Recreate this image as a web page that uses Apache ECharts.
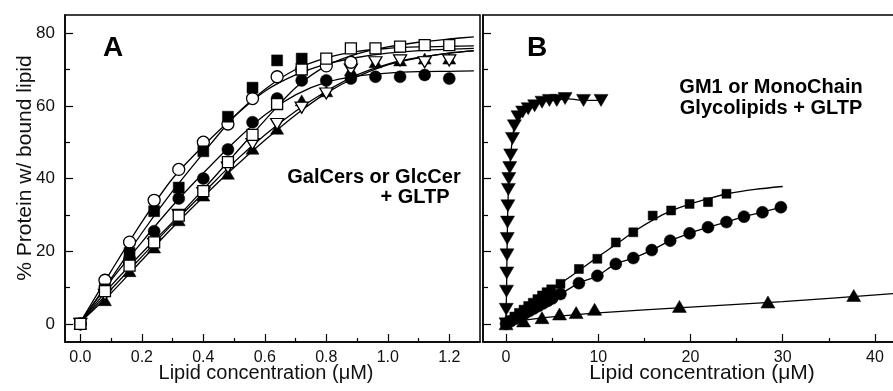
<!DOCTYPE html>
<html>
<head>
<meta charset="utf-8">
<script src="https://cdn.jsdelivr.net/npm/echarts@6.0.0/dist/echarts.min.js"></script>
<style>
html, body {margin: 0; padding: 0; background: #fff;}
#chart {width: 893px; height: 391px;}
</style>
</head>
<body>
<div id="chart"></div>
<script>
// panel A: GalCers / GlcCer, measured points
var xA = [0, 0.08, 0.16, 0.24, 0.32, 0.40, 0.48, 0.56, 0.64, 0.72, 0.80, 0.88, 0.96, 1.04, 1.12, 1.20]
var sqFilledA = [0, 9.5, 19.5, 31, 37.5, 47.5, 57, 65, 72.5, 73]
var circOpenA = [0, 12, 22.5, 34, 42.5, 50, 55, 62, 68, 70, 71, 72]
var circFilledA = [0, 10, 18, 25.5, 34.5, 40, 48, 55.5, 62, 67, 67, 67.5, 68, 68, 68.5, 67.5]
var sqOpenA = [0, 9, 16, 22.4, 29.8, 36.5, 44.5, 52, 60.5, 70, 73, 75.8, 75.8, 76.3, 76.7, 76.7]
var triDownA = [0, 8, 15.5, 22, 30, 36, 43, 49.5, 55, 59.5, 63.4, 70, 72, 72.5, 72, 72.5]
var triUpA = [0, 6.5, 14.5, 21, 28.5, 35.3, 41.3, 48.2, 53.7, 61.5, 64, 69.8, 72, 72.5, 73, 73]

// panel A: fitted curves
var fitXA = [0, 0.1, 0.2, 0.3, 0.4, 0.5, 0.6, 0.7, 0.8, 0.9, 1.0, 1.1, 1.2, 1.28]
var fitSqFilledA = [0.5, 12.5, 25, 36.5, 47, 57, 64.5, 70, 73.2, 75, 75.8, 76.2, 76.4, 76.5]
var fitCircOpenA = [0.5, 14.5, 28, 40, 49, 57, 64, 68.5, 71.5, 73.3, 74.5, 75.2, 75.6, 75.8]
var fitCircFilledA = [0.5, 12, 22.5, 32.5, 41.5, 50, 57.5, 63, 66.5, 68.2, 69, 69.4, 69.5, 69.6]
var fitSqOpenA = [0.5, 10.5, 19.5, 28, 37, 46.5, 56, 65, 71, 74.3, 76.2, 77.5, 78.4, 79]
var fitTriDownA = [0.5, 9.5, 18.5, 27.5, 36, 44.5, 52, 58.5, 64, 68.5, 71.5, 73.3, 74.5, 75.2]
var fitTriUpA = [0.5, 8.5, 17.5, 26.5, 35, 43, 50.5, 57.5, 63.5, 68, 71.3, 73.2, 74.5, 75.1]

// panel B: GM1 / monochain glycolipids
var triDownBx = [0, 0.02, 0.05, 0.08, 0.1, 0.13, 0.16, 0.2, 0.25, 0.3, 0.4, 0.5, 0.7, 0.9, 1.3, 1.8, 2.4, 3.1, 3.9, 4.7, 5.5, 6.4, 8.4, 10.3]
var triDownBy = [0, 4, 9, 14, 19, 23.5, 28, 32.5, 37, 40, 43, 46.5, 51, 54.5, 57, 58.3, 59.2, 60, 61, 61.5, 61.5, 62, 61.5, 61.5]
var sqBx = [0, 0.4, 0.9, 1.4, 1.9, 2.4, 2.9, 3.4, 3.9, 4.4, 4.9, 5.9, 7.9, 9.9, 11.9, 13.8, 15.9, 17.9, 19.9, 21.9, 23.9]
var sqBy = [0, 1.0, 2.0, 3.0, 3.9, 4.9, 5.8, 6.8, 7.8, 8.7, 9.5, 11, 15.1, 17.9, 22.4, 25.2, 29.8, 31.2, 33, 33.5, 35.8]
var circBx = [0, 0.5, 1, 1.5, 2, 2.5, 3, 3.5, 4, 4.5, 5, 5.9, 7.9, 9.9, 11.9, 13.8, 15.8, 17.8, 19.9, 21.9, 23.9, 25.8, 27.8, 29.8]
var circBy = [0, 0.7, 1.4, 2.1, 2.8, 3.5, 4.2, 4.9, 5.6, 6.3, 7.0, 8.2, 11.2, 13.2, 16.5, 18.1, 20.3, 22.9, 24.9, 26.6, 28, 29.5, 30.7, 32.1]
var triUpBx = [0, 1.9, 3.9, 5.8, 7.6, 9.6, 18.8, 28.4, 37.7]
var triUpBy = [0, 0.8, 1.7, 2.7, 3.1, 4.0, 4.8, 6.0, 7.8]
var fitSqBx = [0, 2, 4, 6, 8, 10, 12, 14, 16, 18, 20, 22, 24, 27, 30]
var fitSqBy = [0, 4.1, 8, 11.3, 14.8, 18.5, 22, 25.6, 28.7, 31.2, 33, 34.5, 35.8, 37, 37.8]
var fitTriUpBx = [0, 2, 5, 10, 20, 30, 42.5]
var fitTriUpBy = [0, 1, 1.9, 3, 4.6, 6.1, 8.4]

// ticks
var ticksXA = [0, 0.2, 0.4, 0.6, 0.8, 1.0, 1.2]
var minorXA = [0.1, 0.3, 0.5, 0.7, 0.9, 1.1]
var ticksXB = [0, 10, 20, 30, 40]
var minorXB = [5, 15, 25, 35]
var ticksY = [0, 20, 40, 60, 80]
var minorY = [10, 30, 50, 70]

var FONT = "'Liberation Sans', Arial, sans-serif"

function pairs(xs, ys) {
  return ys.map(function (y, i) { return [xs[i], y] })
}

function xAxisOf(grid, min, max, ticks, labels, fmt) {
  return {
    type: 'value', gridIndex: grid, min: min, max: max, position: 'bottom',
    splitLine: {show: false},
    axisLine: {show: labels, onZero: false, lineStyle: {color: '#000', width: 1.5}},
    axisTick: {show: true, inside: true, length: labels ? 8 : 4, customValues: ticks, lineStyle: {color: '#000', width: 1.2}},
    axisLabel: {show: labels, customValues: ticks, margin: 8, color: '#111', fontSize: 16, fontFamily: FONT, formatter: fmt}
  }
}

function yAxisOf(grid, ticks, major, labels) {
  return {
    type: 'value', gridIndex: grid, min: -5, max: 85, position: 'left',
    splitLine: {show: false},
    axisLine: {show: major, onZero: false, lineStyle: {color: '#000', width: 1.5}},
    axisTick: {show: true, inside: true, length: major ? 8 : 5, customValues: ticks, lineStyle: {color: '#000', width: 1.2}},
    axisLabel: {show: labels, customValues: ticks, margin: 10, color: '#111', fontSize: 17, fontFamily: FONT}
  }
}

function fitLine(name, xi, yi, xs, ys) {
  return {
    name: name, type: 'line', xAxisIndex: xi, yAxisIndex: yi, data: pairs(xs, ys),
    showSymbol: false, smooth: 0.3, z: 2, silent: true,
    lineStyle: {color: '#000', width: 1.3}
  }
}

function marks(name, xi, yi, xs, ys, symbol, size, open, rotate) {
  return {
    name: name, type: 'scatter', xAxisIndex: xi, yAxisIndex: yi, data: pairs(xs, ys),
    symbol: symbol, symbolSize: size, symbolRotate: rotate || 0, z: 5,
    itemStyle: {opacity: 1, color: open ? '#fff' : '#000', borderColor: '#000', borderWidth: open ? 1.3 : 0.5}
  }
}

var chart = echarts.init(document.getElementById('chart'), null, {renderer: 'canvas'})
chart.setOption({
  animation: false,
  backgroundColor: '#fff',
  grid: [
    {left: 65, top: 15, width: 415, height: 327, show: true, borderColor: '#000', borderWidth: 1.5, outerBoundsMode: 'none'},
    {left: 483, top: 15, width: 415, height: 327, show: true, borderColor: '#000', borderWidth: 1.5, outerBoundsMode: 'none'}
  ],
  xAxis: [
    xAxisOf(0, -0.05, 1.3, ticksXA, true, function (v) { return v.toFixed(1) }),
    xAxisOf(0, -0.05, 1.3, minorXA, false),
    xAxisOf(1, -2.5, 42.5, ticksXB, true, function (v) { return String(v) }),
    xAxisOf(1, -2.5, 42.5, minorXB, false)
  ],
  yAxis: [
    yAxisOf(0, ticksY, true, true),
    yAxisOf(0, minorY, false, false),
    yAxisOf(1, ticksY, true, false),
    yAxisOf(1, minorY, false, false)
  ],
  series: [
    fitLine('fit1', 0, 0, fitXA, fitSqFilledA),
    fitLine('fit2', 0, 0, fitXA, fitCircOpenA),
    fitLine('fit3', 0, 0, fitXA, fitCircFilledA),
    fitLine('fit4', 0, 0, fitXA, fitSqOpenA),
    fitLine('fit5', 0, 0, fitXA, fitTriDownA),
    fitLine('fit6', 0, 0, fitXA, fitTriUpA),
    marks('triUpA', 0, 0, xA, triUpA, 'triangle', [13, 11], false),
    marks('triDownA', 0, 0, xA, triDownA, 'triangle', [13, 11], true, 180),
    marks('circFilledA', 0, 0, xA, circFilledA, 'circle', 12, false),
    marks('circOpenA', 0, 0, xA, circOpenA, 'circle', 12, true),
    marks('sqFilledA', 0, 0, xA, sqFilledA, 'rect', 11, false),
    marks('sqOpenA', 0, 0, xA, sqOpenA, 'rect', 11, true),

    fitLine('fitTriDownB', 2, 2, triDownBx, triDownBy),
    fitLine('fitSqB', 2, 2, fitSqBx, fitSqBy),
    fitLine('fitCircB', 2, 2, circBx, circBy),
    fitLine('fitTriUpB', 2, 2, fitTriUpBx, fitTriUpBy),
    marks('triDownB', 2, 2, triDownBx, triDownBy, 'triangle', [14, 12], false, 180),
    marks('circB', 2, 2, circBx, circBy, 'circle', 12, false),
    marks('sqB', 2, 2, sqBx, sqBy, 'rect', 9, false),
    marks('triUpB', 2, 2, triUpBx, triUpBy, 'triangle', [14, 12], false)
  ],
  graphic: [
    {type: 'text', x: 113, y: 48, style: {text: 'A', font: "bold 28px " + FONT, fill: '#000', textAlign: 'center', textVerticalAlign: 'middle'}},
    {type: 'text', x: 537, y: 48, style: {text: 'B', font: "bold 28px " + FONT, fill: '#000', textAlign: 'center', textVerticalAlign: 'middle'}},
    {type: 'text', x: 374, y: 177, style: {text: 'GalCers or GlcCer', font: "bold 20px " + FONT, fill: '#000', textAlign: 'center', textVerticalAlign: 'middle'}},
    {type: 'text', x: 415, y: 197, style: {text: '+ GLTP', font: "bold 20px " + FONT, fill: '#000', textAlign: 'center', textVerticalAlign: 'middle'}},
    {type: 'text', x: 771, y: 87, style: {text: 'GM1 or MonoChain', font: "bold 20px " + FONT, fill: '#000', textAlign: 'center', textVerticalAlign: 'middle'}},
    {type: 'text', x: 771, y: 108, style: {text: 'Glycolipids + GLTP', font: "bold 20px " + FONT, fill: '#000', textAlign: 'center', textVerticalAlign: 'middle'}},
    {type: 'text', x: 25, y: 168, rotation: Math.PI / 2, style: {text: '% Protein w/ bound lipid', font: "21px " + FONT, fill: '#111', textAlign: 'center', textVerticalAlign: 'middle'}},
    {type: 'text', x: 266, y: 373, style: {text: 'Lipid concentration (\u03bcM)', font: "20px " + FONT, fill: '#111', textAlign: 'center', textVerticalAlign: 'middle'}},
    {type: 'text', x: 702, y: 373, style: {text: 'Lipid concentration (\u03bcM)', font: "21px " + FONT, fill: '#111', textAlign: 'center', textVerticalAlign: 'middle'}}
  ]
})
</script>
</body>
</html>
